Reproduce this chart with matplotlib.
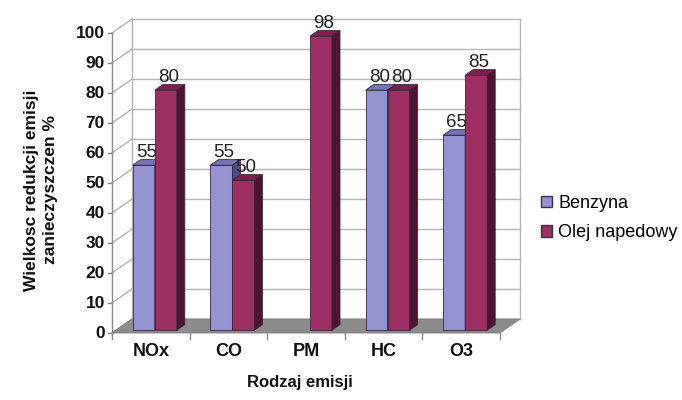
import numpy as np
import matplotlib.pyplot as plt
from matplotlib.patches import Polygon, Patch

categories = ["NOx", "CO", "PM", "HC", "O3"]
benzyna = [55, 55, 0, 80, 65]
olej = [80, 50, 98, 80, 85]
series_names = ["Benzyna", "Olej napedowy"]
yticks = np.arange(0, 101, 10)

plt.rcParams['font.family'] = ['Liberation Sans', 'DejaVu Sans']

W, H = 682, 400
fig = plt.figure(figsize=(W / 100, H / 100), dpi=100)
# front plane of the plot area, in pixels
x0, x1, ytop, ybot = 112, 500, 33, 333
ax = fig.add_axes([x0 / W, 1 - ybot / H, (x1 - x0) / W, (ybot - ytop) / H])
ax.set_xlim(-0.5, len(categories) - 0.5)
ax.set_ylim(0, 100)
ax.axis("off")

# pixel -> data conversion for the fake 3d depth
cx = len(categories) / (x1 - x0)
vy = 100 / (ybot - ytop)
DX, DY = 20 * cx, 14 * vy          # full depth of the box
grid_col = "#b4b4b4"

def poly(pts, fc, ec="none", lw=0.6, z=1):
    ax.add_patch(Polygon(pts, closed=True, facecolor=fc, edgecolor=ec,
                         linewidth=lw, clip_on=False, zorder=z))

xl, xr = -0.5, len(categories) - 0.5

# floor
poly([(xl, 0), (xr, 0), (xr + DX, DY), (xl + DX, DY)], "#8c8c8c", "#7a7a7a", z=1)
# back wall and side wall gridlines
for t in yticks:
    ax.plot([xl + DX, xr + DX], [t + DY, t + DY], color=grid_col, lw=1, clip_on=False, zorder=0.5)
    ax.plot([xl, xl + DX], [t, t + DY], color=grid_col, lw=1, clip_on=False, zorder=0.5)
    ax.plot([xl - 4 * cx, xl], [t, t], color="#808080", lw=1, clip_on=False, zorder=2)
ax.plot([xl + DX, xl + DX], [DY, 100 + DY], color=grid_col, lw=1, clip_on=False, zorder=0.5)
ax.plot([xr + DX, xr + DX], [DY, 100 + DY], color=grid_col, lw=1, clip_on=False, zorder=0.5)
ax.plot([xl, xl], [0, 100], color="#8a8a8a", lw=1, clip_on=False, zorder=2)
for i in range(len(categories) + 1):
    ax.plot([xl + i, xl + i], [0, -6 * vy], color="#8a8a8a", lw=1, clip_on=False, zorder=2)

# bars
bw = 22 * cx
f0, fd = 0.2, 0.4        # bar front position and depth as fraction of the box
colors = [("#9393cf", "#7373b5", "#4b4b8a"), ("#9e2f62", "#7c214b", "#4d1530")]
ec = "#3c2340"
for i in range(len(categories)):
    for s, vals in enumerate([benzyna, olej]):
        v = vals[i]
        if v == 0:
            continue
        front, top, side = colors[s]
        left = i + f0 * DX + (s - 1) * bw
        right = left + bw
        b = f0 * DY
        t = v + f0 * DY
        ddx, ddy = fd * DX, fd * DY
        poly([(left, b), (right, b), (right, t), (left, t)], front, ec, z=3)
        poly([(left, t), (right, t), (right + ddx, t + ddy), (left + ddx, t + ddy)], top, ec, z=3)
        poly([(right, b), (right + ddx, b + ddy), (right + ddx, t + ddy), (right, t)], side, ec, z=3)
        ax.text((left + right) / 2 + ddx / 3, t + ddy - 0.5, str(v), ha="center", va="bottom",
                fontsize=13.5, color="#222222", zorder=4)

# axis labels
for t in yticks:
    ax.text(xl - 7 * cx, t, str(t), ha="right", va="center", fontsize=12.5,
            fontweight="bold", color="#111111")
for i, c in enumerate(categories):
    ax.text(i, -19 * vy, c, ha="center", va="center", fontsize=13,
            fontweight="bold", color="#111111")
fig.text(300 / W, 1 - 383 / H, "Rodzaj emisji", ha="center", va="center",
         fontsize=12, fontweight="bold", color="#111111")
fig.text(41 / W, 1 - 190 / H, "Wielkosc redukcji emisji\nzanieczyszczen %", ha="center",
         va="center", rotation=90, fontsize=12.5, fontweight="bold", color="#111111",
         linespacing=1.4)

handles = [Patch(facecolor=colors[0][0], edgecolor="#333355"),
           Patch(facecolor=colors[1][0], edgecolor="#333355")]
fig.legend(handles, series_names, loc="center left", bbox_to_anchor=(541 / W, 1 - 218 / H),
           frameon=False, fontsize=13, handlelength=0.6, handleheight=0.6,
           handletextpad=0.35, labelspacing=0.7, borderpad=0, borderaxespad=0)

fig.savefig("out.png", dpi=100)
